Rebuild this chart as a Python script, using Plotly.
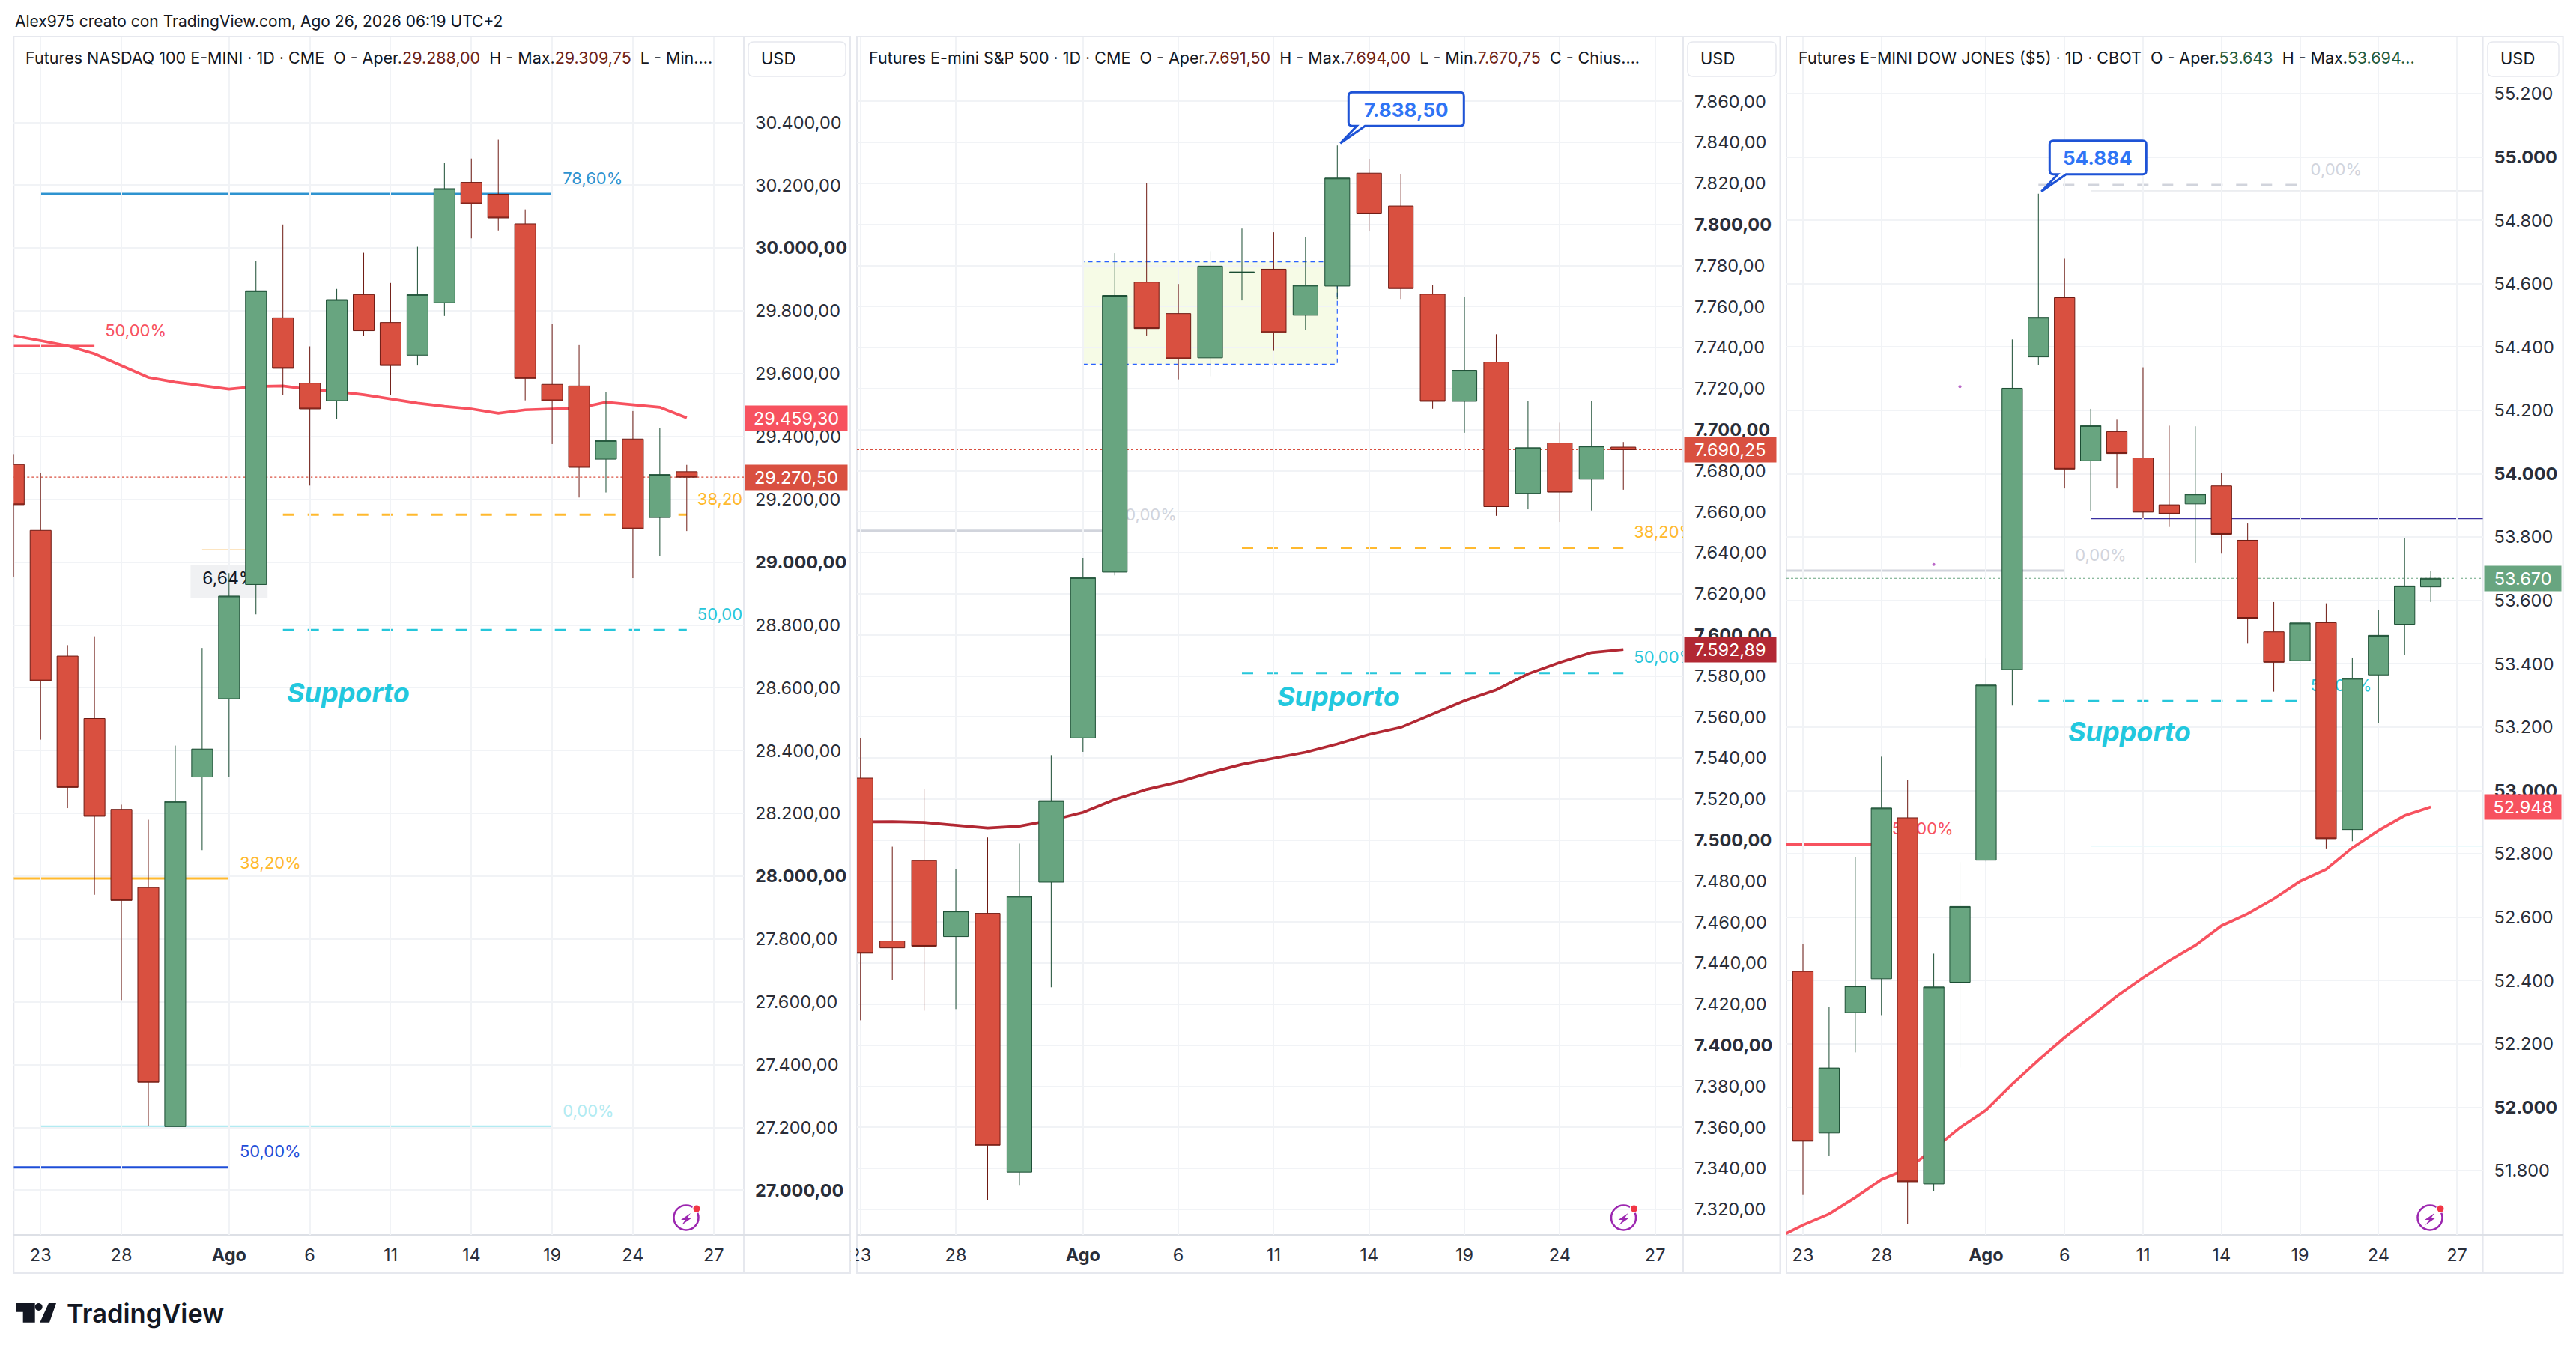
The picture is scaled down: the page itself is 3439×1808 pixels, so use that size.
import plotly.graph_objects as go

WIDTH = 3439
HEIGHT = 1808
FONT = "Inter"

# trading days, Jul 22 to Aug 27 (the last one is empty, it only carries a tick)
days = ['07-22', '07-23', '07-24', '07-27', '07-28', '07-29', '07-30', '07-31',
        '08-03', '08-04', '08-05', '08-06', '08-07', '08-10', '08-11', '08-12',
        '08-13', '08-14', '08-17', '08-18', '08-19', '08-20', '08-21', '08-24',
        '08-25', '08-26', '08-27']
tick_days = ['07-23', '07-28', '08-03', '08-06', '08-11', '08-14', '08-19', '08-24', '08-27']
tick_day_labels = ['23', '28', '<b>Ago</b>', '6', '11', '14', '19', '24', '27']

# NASDAQ 100
nq_open = [29311, 29101, 28701, 28502, 28213, 27964, 27203, 28316, 28565, 28929, 29778, 29570, 29514,
           29852, 29763, 29659, 29826, 30209, 30171, 30077, 29566, 29561, 29328, 29392, 29142, 29288]
nq_high = [29344, 29283, 28736, 28764, 28228, 28180, 28416, 28727, 28965, 29958, 30075, 29687, 29870,
           29985, 29889, 30004, 30272, 30285, 30345, 30123, 29758, 29691, 29541, 29481, 29426, 29309.75]
nq_low = [28954, 28435, 28217, 27941, 27606, 27204, 27203, 28083, 28316, 28834, 29533, 29244, 29456,
          29721, 29533, 29626, 29784, 30031, 30056, 29515, 29376, 29206, 29222, 28949, 29020, 29099]
nq_close = [29183, 28622, 28283, 28191, 27923, 27344, 28238, 28405, 28892, 29864, 29617, 29488, 29836,
            29737, 29626, 29852, 30189, 30141, 30096, 29585, 29514, 29302, 29387, 29106, 29279, 29270.5]
nq_ma = [29721, 29704, 29689, 29663, 29625, 29588, 29573, 29563, 29551, 29559, 29561, 29550, 29543,
         29533, 29519, 29506, 29496, 29488, 29474, 29485, 29488, 29491, 29509, 29502, 29493, 29459.3]
nq_ticks = [30400, 30200, 30000, 29800, 29600, 29400, 29200, 29000, 28800,
            28600, 28400, 28200, 28000, 27800, 27600, 27400, 27200, 27000]
nq_bold = [30000, 29000, 28000, 27000]
nq_range = [26858, 30673]

# S&P 500
es_open = [7530.2, 7450.8, 7490, 7453, 7464.3, 7338.2, 7479.5, 7549.8, 7630.6, 7771.9, 7756.6, 7735,
           7776.7, 7778.2, 7755.8, 7770, 7825, 7809, 7766, 7713.8, 7732.9, 7669, 7693.5, 7675.9, 7691.5]
es_high = [7549.6, 7496.8, 7524.9, 7485.9, 7501.3, 7498.3, 7541.4, 7637.5, 7786, 7820.3, 7771, 7787,
           7798, 7796.2, 7794, 7838.5, 7832, 7824.7, 7770.7, 7764.8, 7746.5, 7714, 7703.4, 7714, 7694]
es_low = [7412.2, 7431.9, 7416.9, 7417.7, 7324.7, 7331.6, 7428.3, 7543, 7629, 7745.9, 7724.5, 7726,
          7763, 7738.4, 7748.6, 7763.7, 7796.6, 7763.7, 7710.2, 7698.5, 7658, 7661.2, 7655, 7660.6, 7670.75]
es_close = [7444.9, 7447.5, 7448.3, 7465.4, 7351.3, 7472.6, 7519.2, 7627.9, 7765.4, 7749.3, 7734.6, 7779.7,
            7776.8, 7747.4, 7770.4, 7822.6, 7805.2, 7768.8, 7713.8, 7728.9, 7662.5, 7691.2, 7669.6, 7692, 7690.25]
es_ma = [7508.9, 7509, 7508.6, 7507.4, 7505.9, 7506.8, 7509.7, 7513.5, 7519.8, 7524.7, 7528.3, 7532.9,
         7536.9, 7539.9, 7542.8, 7546.8, 7551.5, 7554.9, 7561.4, 7567.9, 7573.2, 7581, 7586.6, 7591.4, 7592.89]
es_ticks = [7860, 7840, 7820, 7800, 7780, 7760, 7740, 7720, 7700, 7680, 7660, 7640, 7620, 7600,
            7580, 7560, 7540, 7520, 7500, 7480, 7460, 7440, 7420, 7400, 7380, 7360, 7340, 7320]
es_bold = [7800, 7700, 7600, 7500, 7400]
es_range = [7307.6, 7891.5]

# Dow Jones
ym_open = [52429, 51919, 52299, 52406, 52914, 51758, 52395, 52780, 53382, 54369, 54556, 54041, 54133,
           54050, 53902, 53905, 53962, 53790, 53501, 53410, 53530, 52877, 53365, 53525, 53643]
ym_high = [52515, 52316, 52791, 53107, 53034, 52485, 52774, 53417, 54424, 54884, 54679, 54205, 54171,
           54336, 54152, 54150, 54003, 53843, 53595, 53782, 53591, 53420, 53569, 53797, 53694]
ym_low = [51723, 51847, 52173, 52291, 51632, 51735, 52125, 52775, 53268, 54344, 53954, 53881, 53954,
          53860, 53832, 53718, 53748, 53464, 53312, 53339, 52815, 52840, 53212, 53429, 53595]
ym_close = [51893, 52124, 52383, 52945, 51765, 52380, 52634, 53333, 54270, 54494, 54015, 54152, 54064,
            53879, 53873, 53936, 53809, 53544, 53405, 53529, 52848, 53354, 53490, 53646, 53670]
ym_ma = [51587, 51628, 51663, 51715, 51772, 51806, 51868, 51936, 51991, 52073, 52149, 52220, 52285,
         52351, 52409, 52463, 52511, 52573, 52611, 52658, 52713, 52751, 52819, 52874, 52921, 52948]
ym_ticks = [55200, 55000, 54800, 54600, 54400, 54200, 54000, 53800, 53600, 53400,
            53200, 53000, 52800, 52600, 52400, 52200, 52000, 51800]
ym_bold = [55000, 54000, 53000, 52000]
ym_range = [51597, 55380]

RED = '#D95040'
GREEN = '#68A580'
RED_LINE = '#6E1A12'
GREEN_LINE = '#1B4D33'
MA_RED = '#F7525F'
MA_DARK = '#B22833'
ORANGE = '#FFB92E'
CYAN = '#26C6DA'
GREY = '#D1D4DC'
GRID = '#F1F3F6'
FRAME = '#E6E8EE'

fig = go.Figure()
shapes = []
annotations = []


def idx(day):
    return days.index(day)


def px(x):
    return x / WIDTH


def py(y):
    return 1 - y / HEIGHT


def xa(n):
    return 'x' if n == 1 else f'x{n}'


def ya(n):
    return 'y' if n == 1 else f'y{n}'


def number(v, decimals):
    s = f"{v:,.{decimals}f}"
    return s.replace(',', 'X').replace('.', ',').replace('X', '.')


def note(text, x, y, size=24, color='#131722', **kwargs):
    """Text placed in page pixels"""
    annotations.append(dict(text=text, x=px(x), y=py(y), xref='paper', yref='paper', showarrow=False,
                            xanchor=kwargs.pop('xanchor', 'left'), yanchor='middle',
                            font=dict(family=FONT, size=size, color=color, **kwargs)))


def rounded(x0, y0, x1, y1, r):
    """Rounded rectangle in page pixels"""
    p = lambda x, y: f"{px(x)},{py(y)}"
    return (f"M{p(x0 + r, y0)} L{p(x1 - r, y0)} Q{p(x1, y0)} {p(x1, y0 + r)} "
            f"L{p(x1, y1 - r)} Q{p(x1, y1)} {p(x1 - r, y1)} L{p(x0 + r, y1)} "
            f"Q{p(x0, y1)} {p(x0, y1 - r)} L{p(x0, y0 + r)} Q{p(x0, y0)} {p(x0 + r, y0)} Z")


def level(n, value, start, end, color, width=3, dash='solid'):
    """Horizontal drawing tool between two days, under the candles"""
    x0 = idx(start)
    x1 = idx(end) if isinstance(end, str) else end
    shapes.append(dict(type='line', xref=xa(n), yref=ya(n), x0=x0, x1=x1, y0=value, y1=value,
                       layer='below', line=dict(color=color, width=width, dash=dash)))


def level_text(n, text, day, value, color):
    """Fibonacci label, under the candles and clipped by the plot"""
    fig.add_trace(go.Scatter(x=[day], y=[value], text=['\u00a0' + text], mode='markers+text', xaxis=xa(n), yaxis=ya(n),
                             marker=dict(size=11, opacity=0), textposition='top right',
                             textfont=dict(family=FONT, size=22, color=color)))


def price_tag(n, value, text, left, right, color):
    annotations.append(dict(text=text, x=px(left + 1), y=value, xref='paper', yref=ya(n), showarrow=False,
                            xanchor='left', yanchor='middle', width=right - left, height=31, align='center',
                            bgcolor=color, font=dict(family=FONT, size=23.5, color='white')))


def bubble(n, day, value, text, w):
    """Blue price note pointing at a high"""
    x = idx(day)
    path = (f"M20,71 L{w - 5},71 Q{w},71 {w},66 L{w},31 Q{w},26 {w - 5},26 L37,26 L4,3 L26,26 L20,26 "
            f"Q15,26 15,31 L15,66 Q15,71 20,71 Z")
    anchor = dict(type='path', xref=xa(n), yref=ya(n), xsizemode='pixel', ysizemode='pixel',
                  xanchor=x, yanchor=value, layer='above')
    shapes.append(dict(anchor, path=path, fillcolor='white', line=dict(color='#1E53D6', width=3)))
    shapes.append(dict(anchor, path='M-4,0 A4,4 0 1 1 4,0 A4,4 0 1 1 -4,0 Z', fillcolor='#1E53D6',
                       line=dict(width=0)))
    annotations.append(dict(text=f'<b>{text}</b>', x=x, y=value, xref=xa(n), yref=ya(n), showarrow=False,
                            xshift=(15 + w) / 2, yshift=48, font=dict(family=FONT, size=26, color='#2F74F5')))


def bolt(cx, cy):
    """Purple flash icon at the bottom of each plot"""
    shapes.append(dict(type='circle', xref='paper', yref='paper', x0=px(cx - 16.5), x1=px(cx + 16.5),
                       y0=py(cy - 16.5), y1=py(cy + 16.5), line=dict(color='#9C27B0', width=2.5), layer='above'))
    pts = [(6, -6), (-7, 3), (-1, 3), (-6, 10), (8, 0), (2, 0)]
    path = 'M' + ' L'.join(f"{px(cx + a)},{py(cy + b)}" for a, b in pts) + ' Z'
    shapes.append(dict(type='path', xref='paper', yref='paper', path=path, fillcolor='#9C27B0',
                       line=dict(width=0), layer='above'))
    shapes.append(dict(type='circle', xref='paper', yref='paper', x0=px(cx + 8), x1=px(cx + 20), y0=py(cy - 18),
                       y1=py(cy - 6), fillcolor='white', line=dict(width=0), layer='above'))
    shapes.append(dict(type='circle', xref='paper', yref='paper', x0=px(cx + 9.5), x1=px(cx + 18.5),
                       y0=py(cy - 16.5), y1=py(cy - 7.5), fillcolor='#F23645', line=dict(width=0), layer='above'))


def panel(n, left, right, end, header, header_x, usd_box, ticks, bold, decimals, y_range, x_range,
          o, h, l, c, ma, ma_days, ma_color):
    """One chart: moving average on the base axes, candles on an overlay axis drawn above it"""
    over = n + 3
    fig.add_trace(go.Scatter(x=ma_days, y=ma, mode='lines', xaxis=xa(n), yaxis=ya(n),
                             line=dict(color=ma_color, width=3.7)))
    fig.add_trace(go.Candlestick(x=days[-len(o) - 1:-1], open=o, high=h, low=l, close=c,
                                 xaxis=xa(n), yaxis=f'y{over}', whiskerwidth=0,
                                 increasing=dict(fillcolor=GREEN, line=dict(color=GREEN_LINE, width=1)),
                                 decreasing=dict(fillcolor=RED, line=dict(color=RED_LINE, width=1))))

    tick_text = [f"<b>{number(v, decimals)}</b>" if v in bold else number(v, decimals) for v in ticks]
    axis_font = dict(family=FONT, size=23.5, color='#2A2E39')
    x_key = 'xaxis' if n == 1 else f'xaxis{n}'
    y_key = 'yaxis' if n == 1 else f'yaxis{n}'
    layout = {
        x_key: dict(domain=[px(left), px(right)], type='category', categoryorder='array', categoryarray=days,
                    range=x_range, anchor=ya(n), tickmode='array', tickvals=tick_days,
                    ticktext=tick_day_labels, showgrid=True, gridcolor=GRID, gridwidth=1.5, ticks='',
                    tickfont=axis_font, ticklabelstandoff=10, rangeslider=dict(visible=False),
                    showline=False, zeroline=False),
        y_key: dict(domain=[py(1649), py(49)], range=y_range, anchor=xa(n), side='right', tickmode='array',
                    tickvals=ticks, ticktext=tick_text, showgrid=True, gridcolor=GRID, gridwidth=1.5,
                    ticks='', tickfont=axis_font, ticklabelstandoff=14, zeroline=False),
        f'yaxis{over}': dict(domain=[py(1649), py(49)], range=y_range, anchor=xa(n), overlaying=ya(n), side='right',
                             showticklabels=False, showgrid=False, zeroline=False),
    }
    fig.update_layout(layout)

    # frame, plot edge and time axis edge
    shapes.append(dict(type='rect', xref='paper', yref='paper', x0=px(left), x1=px(end), y0=py(49), y1=py(1700),
                       line=dict(color=FRAME, width=2), layer='below'))
    shapes.append(dict(type='line', xref='paper', yref='paper', x0=px(right), x1=px(right), y0=py(49), y1=py(1700),
                       line=dict(color=FRAME, width=2), layer='below'))
    shapes.append(dict(type='line', xref='paper', yref='paper', x0=px(left), x1=px(end), y0=py(1649), y1=py(1649),
                       line=dict(color='#DDE0E6', width=2), layer='below'))
    note(header, header_x, 77.5, size=21.5)
    shapes.append(dict(type='path', xref='paper', yref='paper', path=rounded(usd_box[0], 56, usd_box[1], 102, 7),
                       fillcolor='white', line=dict(color=FRAME, width=1.5), layer='below'))
    note('USD', usd_box[0] + 15, 78.5, size=22)


def header_value(text, color):
    return f'<span style="color:{color}">{text}</span>'


DARK_RED = '#6E1F17'
DARK_GREEN = '#1F5A3C'
sp = '\u00a0\u00a0'

panel(1, 18.3, 993, 1135,
      f"Futures NASDAQ 100 E-MINI · 1D · CME{sp}O - Aper.{header_value('29.288,00', DARK_RED)}"
      f"{sp}H - Max.{header_value('29.309,75', DARK_RED)}{sp}L - Min....", 32, (999, 1129),
      nq_ticks, nq_bold, 2, nq_range, [0, 27.12], nq_open, nq_high, nq_low, nq_close, nq_ma, days[:-1], MA_RED)
panel(2, 1144, 2247, 2376.5,
      f"Futures E-mini S&P 500 · 1D · CME{sp}O - Aper.{header_value('7.691,50', DARK_RED)}"
      f"{sp}H - Max.{header_value('7.694,00', DARK_RED)}{sp}L - Min.{header_value('7.670,75', DARK_RED)}"
      f"{sp}C - Chius....", 1158, (2253, 2371),
      es_ticks, es_bold, 2, es_range, [0.888, 26.88], es_open, es_high, es_low, es_close, es_ma, days[1:-1], MA_DARK)
panel(3, 2385, 3314.6, 3421.6,
      f"Futures E-MINI DOW JONES ($5) · 1D · CBOT{sp}O - Aper.{header_value('53.643', DARK_GREEN)}"
      f"{sp}H - Max.{header_value('53.694...', DARK_GREEN)}", 2399, (3321, 3416),
      ym_ticks, ym_bold, 0, ym_range, [0.37, 26.99], ym_open, ym_high, ym_low, ym_close, ym_ma, days[:-1], MA_RED)

# drawings on the NASDAQ chart
level(1, 30172, '07-23', '08-19', '#2E93D0')
level_text(1, '78,60%', '08-19', 30172, '#2E93D0')
level(1, 29688, '07-22', '07-27', MA_RED)
level_text(1, '50,00%', '07-27', 29688, MA_RED)
level(1, 27993, '07-22', '08-03', ORANGE)
level_text(1, '38,20%', '08-03', 27993, ORANGE)
level(1, 27203, '07-23', '08-19', '#B2EBF2')
level_text(1, '0,00%', '08-19', 27203, '#B2EBF2')
level(1, 27073, '07-22', '08-03', '#1E4ED8')
level_text(1, '50,00%', '08-03', 27073, '#1E4ED8')
level(1, 29151, '08-05', '08-26', ORANGE, dash='15px,18px')
level_text(1, '38,20%', '08-26', 29151, ORANGE)
level(1, 28784, '08-05', '08-26', CYAN, dash='15px,18px')
level_text(1, '50,00%', '08-26', 28784, CYAN)
# price range tool around Aug 3
shapes.append(dict(type='line', xref='x', yref='y', x0=8, x1=8, y0=29039, y1=nq_range[1], layer='below',
                   line=dict(color='#F9CB86', width=1.5)))
shapes.append(dict(type='line', xref='x', yref='y', x0=7, x1=8.6, y0=29039, y1=29039, layer='below',
                   line=dict(color='#F9CB86', width=1.5)))
shapes.append(dict(type='rect', xref='x', yref='y', x0=6.57, x1=9.43, y0=28886, y1=28991, layer='below',
                   fillcolor='#F0F1F3', line=dict(width=0)))
fig.add_trace(go.Scatter(x=['08-03'], y=[28943], text=['6,64%'], mode='text', xaxis='x', yaxis='y',
                         textposition='middle center', textfont=dict(family=FONT, size=23, color='#131722')))

# drawings on the S&P chart
shapes.append(dict(type='rect', xref='x2', yref='y2', x0=idx('08-03'), x1=idx('08-13'), y0=7731.9, y1=7781.8,
                   layer='below', fillcolor='#F6FBE6', line=dict(color='#2962FF', width=1.2, dash='6px,5px')))
level(2, 7650.7, '07-22', '08-04', GREY)
level_text(2, '0,00%', '08-04', 7650.7, GREY)
level(2, 7642.4, '08-10', '08-26', ORANGE, dash='15px,18px')
level_text(2, '38,20%', '08-26', 7642.4, ORANGE)
level(2, 7581.4, '08-10', '08-26', CYAN, dash='15px,18px')
level_text(2, '50,00%', '08-26', 7581.4, CYAN)
bubble(2, '08-13', 7838.5, '7.838,50', 169)

# drawings on the Dow chart
level(3, 54912, '08-05', '08-19', GREY, dash='15px,18px')
level_text(3, '0,00%', '08-19', 54912, GREY)
level(3, 54893, '08-07', 30, '#DADDE3', width=1)
level(3, 53858, '08-07', 30, '#3A30A0', width=1.3)
level(3, 52825, '08-07', 30, '#B2EBF2', width=1.2)
level(3, 53694, '07-22', '08-06', GREY)
level_text(3, '0,00%', '08-06', 53694, GREY)
level(3, 52830, '07-22', '07-28', MA_RED)
level_text(3, '50,00%', '07-28', 52830, MA_RED)
level(3, 53282, '08-05', '08-19', CYAN, dash='15px,18px')
level_text(3, '50,00%', '08-19', 53282, CYAN)
fig.add_trace(go.Scatter(x=['07-31', '07-30'], y=[54275, 53714], mode='markers', xaxis='x3', yaxis='y3',
                         marker=dict(size=4, color='#BA68C8')))
bubble(3, '08-05', 54884, '54.884', 144)

# last price lines
for n, value, color in [(1, 29270.5, RED), (2, 7690.25, RED), (3, 53670, GREEN)]:
    shapes.append(dict(type='line', xref=f'{xa(n)} domain', yref=ya(n), x0=0, x1=1, y0=value, y1=value, layer='below',
                       line=dict(color=color, width=1.2, dash='dot')))

price_tag(1, 29459.3, '29.459,30', 993, 1127, MA_RED)
price_tag(1, 29270.5, '29.270,50', 993, 1127, RED)
price_tag(2, 7690.25, '7.690,25', 2247, 2367, RED)
price_tag(2, 7592.89, '7.592,89', 2247, 2367, MA_DARK)
price_tag(3, 53670, '53.670', 3314.6, 3415, GREEN)
price_tag(3, 52948, '52.948', 3314.6, 3415, MA_RED)

for n, x, value in [(1, 12.42, 28585), (2, 16.03, 7570), (3, 13.48, 53185)]:
    annotations.append(dict(text='Supporto', x=x, y=value, xref=xa(n), yref=ya(n), showarrow=False,
                            font=dict(family=FONT, size=36, color='#22C8DE', weight='bold', style='italic')))

bolt(916, 1626)
bolt(2167.5, 1626)
bolt(3244, 1626)

# the first S&P tick label is cut by the chart edge
shapes.append(dict(type='rect', xref='paper', yref='paper', x0=px(1136), x1=px(1143), y0=py(1651), y1=py(1699),
                   fillcolor='white', line=dict(width=0), layer='above'))

note('Alex975 creato con TradingView.com, Ago 26, 2026 06:19 UTC+2', 18, 29, size=21)

# TradingView logo
logo = [
    [(21.7, 1740), (46.7, 1740), (46.7, 1765.7), (30.7, 1765.7), (30.7, 1751.7), (21.7, 1751.7)],
    [(65, 1740), (75, 1740), (66, 1765.7), (53.3, 1765.7)],
]
for pts in logo:
    path = 'M' + ' L'.join(f"{px(a)},{py(b)}" for a, b in pts) + ' Z'
    shapes.append(dict(type='path', xref='paper', yref='paper', path=path, fillcolor='#131722', line=dict(width=0)))
shapes.append(dict(type='circle', xref='paper', yref='paper', x0=px(46.7), x1=px(56.7), y0=py(1740), y1=py(1750),
                   fillcolor='#131722', line=dict(width=0)))
note('TradingView', 87, 1753, size=34.5, color='#131722', weight=600)

fig.update_layout(
    width=WIDTH, height=HEIGHT, autosize=False, margin=dict(l=0, r=0, t=0, b=0, autoexpand=False),
    paper_bgcolor='white', plot_bgcolor='white', showlegend=False, hovermode=False,
    boxgap=0.22, boxgroupgap=0,
    font=dict(family=FONT), shapes=shapes, annotations=annotations,
)

fig.write_html("out.html", config={'displayModeBar': False},
               post_script="document.body.style.margin='0';document.body.style.overflow='hidden';")
